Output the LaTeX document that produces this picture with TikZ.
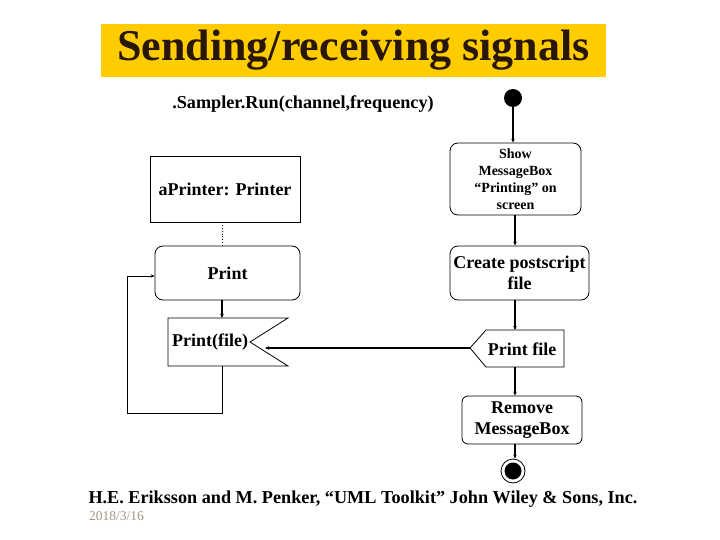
\documentclass[tikz,border=0pt]{standalone}
\usepackage{fontspec}
\setmainfont{Liberation Serif}
\usetikzlibrary{arrows.meta,calc}
\definecolor{titlebg}{RGB}{255,204,0}
\definecolor{titlefg}{RGB}{40,22,6}
\definecolor{dategray}{RGB}{160,150,130}
\tikzset{
  box/.style={draw, line width=0.8pt, align=center, inner sep=1pt, font=\bfseries\fontsize{18}{21}\selectfont},
  rbox/.style={box, rounded corners=8pt},
  flow/.style={line width=1.5pt, -{Stealth[length=4pt,width=3.5pt]}},
  thinflow/.style={line width=1pt, -{Stealth[length=4pt,width=3.5pt]}},
  lbl/.style={inner sep=0pt, align=center, font=\bfseries\fontsize{18}{21}\selectfont}
}
\begin{document}
\begin{tikzpicture}[x=1pt,y=-1pt]
\useasboundingbox (0,0) rectangle (720,540);
% title
\node[fill=titlebg, minimum width=505pt, minimum height=53pt, inner sep=0pt,
      text=titlefg, font=\bfseries\fontsize{44}{45}\selectfont] (title) at (353.5,50.5) {Sending/receiving signals};
\node[lbl, font=\bfseries\fontsize{18.2}{20}\selectfont] (sampler) at (303,104) {.Sampler.Run(channel,frequency)};
% start
\node[circle, fill=black, minimum size=18pt, inner sep=0pt] (start) at (513,98) {};
% left column
\node[box, minimum width=150pt, minimum height=66pt] (aprinter) at (225,189) {aPrinter: Printer};
\node[rbox, minimum width=145pt, minimum height=54pt] (print) at (227.5,273) {Print};
% receive signal shape
\coordinate (rtl) at (168,318);
\coordinate (rtr) at (288,318);
\coordinate (notch) at (250,342);
\coordinate (rbr) at (288,366);
\coordinate (rbl) at (168,366);
\draw[line width=0.8pt] (rtl) -- (rtr) -- (notch) -- (rbr) -- (rbl) -- cycle;
\node[lbl] (printfile) at (210,342) {Print(file)};
\coordinate (recvtop) at (222,318);
\coordinate (recvbot) at (222,366);
% right column
\node[rbox, minimum width=131pt, minimum height=72pt, font=\bfseries\fontsize{14}{17}\selectfont] (show) at (515.5,179) {Show\\MessageBox\\“Printing” on\\screen};
\node[rbox, minimum width=139pt, minimum height=54pt] (create) at (519.5,273) {Create postscript\\file};
% send signal shape
\coordinate (stip) at (470,348);
\coordinate (stl) at (486,330);
\coordinate (str) at (564,330);
\coordinate (sbr) at (564,367);
\coordinate (sbl) at (486,367);
\draw[line width=0.8pt] (stip) -- (stl) -- (str) -- (sbr) -- (sbl) -- cycle;
\node[lbl] (sendfile) at (522,349) {Print file};
\node[rbox, rounded corners=6pt, minimum width=120pt, minimum height=48pt] (remove) at (522,420) {Remove\\MessageBox};
% end
\node[circle, draw, line width=0.8pt, minimum size=24pt, inner sep=0pt] (endo) at (513,471) {};
\node[circle, fill=black, minimum size=17pt, inner sep=0pt] (endi) at (513,471) {};
% connectors right column
\draw[flow] (start) -- (start |- show.north);
\draw[flow] (show.south -| 515,0) -- (create.north -| 515,0);
\draw[flow] (create.south -| 515,0) -- (str -| 515,0);
\draw[flow] (sbr -| 515,0) -- (remove.north -| 515,0);
\draw[flow] (remove.south -| 515,0) -- (endo.north -| 515,0);
% connectors left column
\draw[line width=0.8pt, dotted] (aprinter.south -| 222,0) -- (print.north -| 222,0);
\draw[flow] (print.south -| 222,0) -- (recvtop);
\coordinate (loopA) at (222,413);
\coordinate (loopB) at (127,413);
\coordinate (loopC) at (127,276);
\draw[thinflow] (recvbot) -- (loopA) -- (loopB) -- (loopC) -- (print.west |- loopC);
% signal
\coordinate (sigend) at (265,348);
\draw[line width=2pt, -{Stealth[length=4pt,width=3.5pt]}] (stip) -- (sigend);
% footer
\node[lbl, font=\bfseries\fontsize{18.2}{20}\selectfont] (cite) at (363,499) {H.E. Eriksson and M. Penker, “UML Toolkit” John Wiley \& Sons, Inc.};
\node[anchor=west, inner sep=0pt, text=dategray, font=\fontsize{13.5}{14}\selectfont] (date) at (89,516) {2018/3/16};
\end{tikzpicture}
\end{document}
